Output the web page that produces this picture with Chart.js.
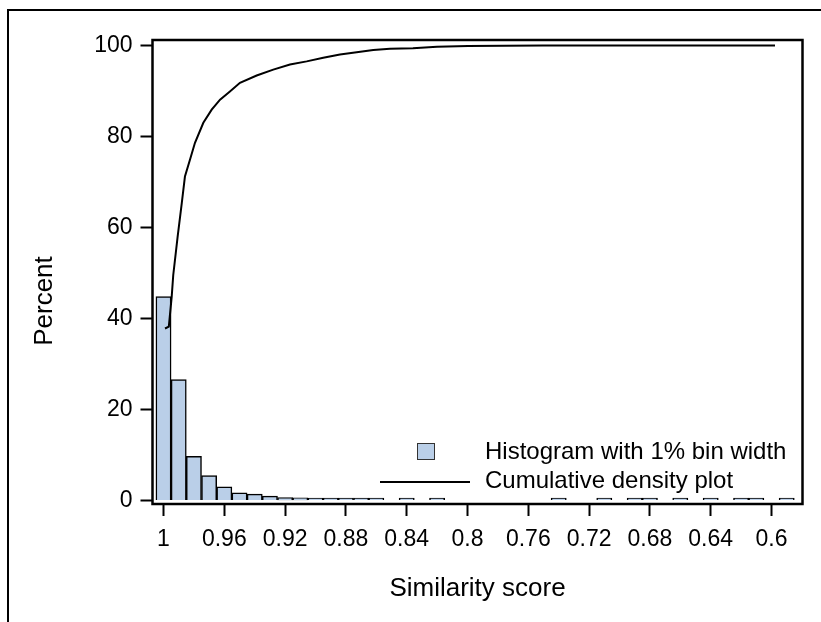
<!DOCTYPE html>
<html>
<head>
<meta charset="utf-8">
<script src="https://cdn.jsdelivr.net/npm/chart.js@4"></script>
<style>
  html, body { margin: 0; padding: 0; background: #fff; }
</style>
</head>
<body>
<canvas id="simChart" width="821" height="622"></canvas>
<script>
// histogram bins (1% wide), centred on the score
const binCenters = [1.00, 0.99, 0.98, 0.97, 0.96, 0.95, 0.94, 0.93, 0.92, 0.91,
  0.90, 0.89, 0.88, 0.87, 0.86, 0.85, 0.84, 0.83, 0.82, 0.81,
  0.80, 0.79, 0.78, 0.77, 0.76, 0.75, 0.74, 0.73, 0.72, 0.71,
  0.70, 0.69, 0.68, 0.67, 0.66, 0.65, 0.64, 0.63, 0.62, 0.61,
  0.60, 0.59];
const binPercent = [44.8, 26.6, 9.7, 5.5, 3.0, 1.7, 1.4, 0.95, 0.65, 0.6,
  0.4, 0.4, 0.35, 0.25, 0.2, null, 0.15, null, 0.15, null,
  null, null, null, null, null, null, 0.1, null, null, 0.1,
  null, 0.1, 0.1, null, 0.1, null, 0.1, null, 0.1, 0.1,
  null, 0.1];

// cumulative density curve
const cdfScore = [0.999, 0.9965, 0.9957, 0.9946, 0.9936, 0.9907, 0.988, 0.9859, 0.9826, 0.9793,
  0.9738, 0.9683, 0.9628, 0.9563, 0.9497, 0.9387, 0.9278, 0.9168, 0.9058, 0.8949,
  0.8839, 0.8729, 0.862, 0.851, 0.8359, 0.8201, 0.7997, 0.7503, 0.5977];
const cdfPercent = [37.8, 38.2, 41.0, 44.8, 49.5, 58.0, 65.3, 71.2, 74.9, 78.6,
  83.0, 85.9, 88.1, 89.9, 91.8, 93.4, 94.7, 95.8, 96.5, 97.3,
  98.0, 98.5, 99.0, 99.3, 99.4, 99.7, 99.9, 100, 100];

const xTickValues = [1, 0.96, 0.92, 0.88, 0.84, 0.8, 0.76, 0.72, 0.68, 0.64, 0.6];
const yTickValues = [0, 20, 40, 60, 80, 100];

const legendLabels = ['Histogram with 1% bin width', 'Cumulative density plot'];
const barFill = '#bacfe8';
const fontFamily = "'Liberation Sans', Arial, sans-serif";

Chart.defaults.font.family = fontFamily;
Chart.defaults.color = '#000';

const framePlugin = {
  id: 'frame',
  afterDraw(chart) {
    const ctx = chart.ctx;
    const a = chart.chartArea;
    ctx.save();
    // outer border (left and top only)
    ctx.strokeStyle = '#000';
    ctx.lineWidth = 2;
    ctx.beginPath();
    ctx.moveTo(8, 622);
    ctx.lineTo(8, 10);
    ctx.lineTo(821, 10);
    ctx.stroke();
    // plot frame
    ctx.lineWidth = 2.5;
    ctx.strokeRect(a.left, a.top, a.right - a.left, a.bottom - a.top);
    // y title
    ctx.font = '26px ' + fontFamily;
    ctx.fillStyle = '#000';
    ctx.textAlign = 'center';
    ctx.textBaseline = 'middle';
    ctx.translate(45, 301);
    ctx.rotate(-Math.PI / 2);
    ctx.fillText('Percent', 0, 0);
    ctx.restore();

    // legend
    ctx.save();
    ctx.fillStyle = barFill;
    ctx.fillRect(417, 443, 17, 16);
    ctx.strokeStyle = '#333';
    ctx.lineWidth = 1;
    ctx.strokeRect(417.5, 443.5, 17, 16);
    ctx.strokeStyle = '#000';
    ctx.lineWidth = 2;
    ctx.beginPath();
    ctx.moveTo(380, 482);
    ctx.lineTo(470, 482);
    ctx.stroke();
    ctx.font = '24px ' + fontFamily;
    ctx.fillStyle = '#000';
    ctx.textAlign = 'left';
    ctx.textBaseline = 'middle';
    ctx.fillText(legendLabels[0], 485, 452);
    ctx.fillText(legendLabels[1], 485, 481);
    ctx.restore();
  }
};

const ctx = document.getElementById('simChart').getContext('2d');
new Chart(ctx, {
  type: 'bar',
  data: {
    datasets: [
      {
        type: 'line',
        label: legendLabels[1],
        data: cdfScore.map((s, i) => ({ x: s, y: cdfPercent[i] })),
        borderColor: '#000',
        borderWidth: 2,
        pointRadius: 0,
        tension: 0,
        fill: false,
        order: 0,
      },
      {
        type: 'bar',
        label: legendLabels[0],
        data: binCenters.map((c, i) => ({ x: c, y: binPercent[i] })),
        backgroundColor: barFill,
        borderColor: '#000',
        borderWidth: 1.5,
        minBarLength: 2.5,
        barPercentage: 1,
        categoryPercentage: 1,
        order: 1,
      },
    ],
  },
  options: {
    responsive: false,
    animation: false,
    layout: { padding: { left: 0, top: 40, right: 18.5, bottom: 0 } },
    plugins: { legend: { display: false }, tooltip: { enabled: false } },
    scales: {
      x: {
        type: 'linear',
        reverse: true,
        offset: false,
        min: 0.5796,
        max: 1.00724,
        afterBuildTicks: (scale) => { scale.ticks = xTickValues.map((v) => ({ value: v })); },
        afterFit: (scale) => { scale.height = 118; },
        ticks: {
          callback: (v) => String(v),
          font: { size: 23 },
          padding: 10,
          maxRotation: 0,
          autoSkip: false,
        },
        grid: { offset: false, drawOnChartArea: false, drawTicks: true, tickLength: 12, tickWidth: 2, tickColor: '#000' },
        border: { display: false },
        title: {
          display: true,
          text: 'Similarity score',
          font: { size: 26 },
          padding: { top: 0, bottom: 18 },
        },
      },
      y: {
        min: -0.77,
        max: 101.2,
        afterBuildTicks: (scale) => { scale.ticks = yTickValues.map((v) => ({ value: v })); },
        afterFit: (scale) => { scale.width = 152.5; },
        ticks: { font: { size: 23 }, padding: 8 },
        grid: { drawOnChartArea: false, drawTicks: true, tickLength: 12, tickWidth: 2, tickColor: '#000' },
        border: { display: false },
      },
    },
  },
  plugins: [framePlugin],
});
</script>
</body>
</html>
